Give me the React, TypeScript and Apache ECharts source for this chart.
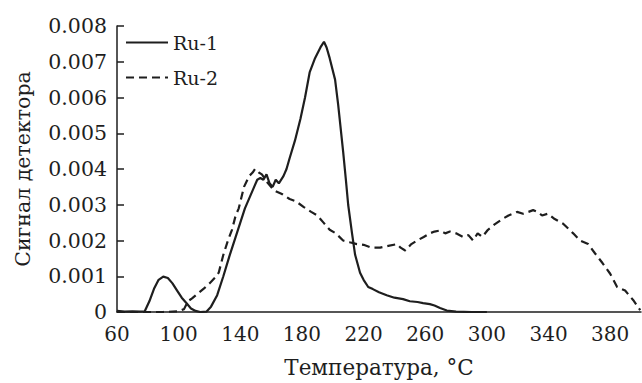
import React, { useEffect, useRef } from "react";
import * as echarts from "echarts";

const ru1Temp = [60, 65, 70, 75, 78, 81, 84, 87, 90, 93, 96, 99, 102, 105, 108, 111, 114, 118, 121, 125, 129, 133, 137, 140, 143, 146, 149, 151, 153, 155, 157, 159, 161, 163, 165, 168, 170, 172, 175.5, 179, 182, 185, 188.5, 192, 194.3, 196, 198, 201.5, 203.5, 206.7, 208.5, 210, 212.5, 214.5, 217.7, 220, 223, 226, 230, 235, 240, 245.6, 250, 255, 258.6, 263, 266, 269.6, 274, 280, 290, 300];
const ru1Signal = [0.00003, 0.00001, 0.00002, 0.00001, 0.00002, 0.0003, 0.00065, 0.0009, 0.00099, 0.00095, 0.0008, 0.0006, 0.0004, 0.00025, 0.0001, 0.00003, 0.0, 0.00001, 0.00015, 0.00047, 0.001, 0.00157, 0.0021, 0.0025, 0.0029, 0.0032, 0.0035, 0.0037, 0.00375, 0.0037, 0.00385, 0.0036, 0.0035, 0.0037, 0.0036, 0.0038, 0.004, 0.0043, 0.0048, 0.0054, 0.006, 0.0067, 0.0071, 0.0074, 0.00756, 0.0074, 0.0071, 0.0065, 0.0058, 0.0045, 0.0037, 0.003, 0.0022, 0.0016, 0.0011, 0.0009, 0.0007, 0.00064, 0.00055, 0.00047, 0.0004, 0.00036, 0.0003, 0.00028, 0.00025, 0.00022, 0.00018, 0.00011, 0.00004, 0.00001, 0, 0];

const ru2Temp = [60, 70, 80, 90, 100, 103.5, 106, 108.7, 112, 116.5, 120, 123.6, 126, 129, 132, 134.6, 137, 139, 142.4, 145.7, 148, 149.6, 152, 154, 158, 162, 167, 172, 176, 181, 186, 190, 194, 198, 202, 206.7, 211, 215.7, 220, 225, 230.7, 236, 241.7, 244, 247, 251, 254.7, 259, 263, 266, 269.6, 273, 276, 280, 284.5, 288, 291, 294, 297, 300.7, 305, 310, 314, 319.6, 323.5, 327, 330, 333, 335.8, 339.7, 344, 349.5, 356, 360.5, 365.7, 370, 375, 380, 384.5, 389.7, 395, 399.5];
const ru2Signal = [0, 0, 0, 0, 0.00002, 0.00008, 0.0003, 0.00038, 0.0005, 0.00066, 0.0008, 0.00096, 0.0011, 0.0016, 0.002, 0.0023, 0.0027, 0.0029, 0.0035, 0.0038, 0.0039, 0.004, 0.0039, 0.00385, 0.0036, 0.0034, 0.0033, 0.00316, 0.0031, 0.00294, 0.0028, 0.0027, 0.0025, 0.0023, 0.0022, 0.002, 0.00195, 0.0019, 0.00188, 0.0018, 0.0018, 0.00185, 0.0019, 0.0018, 0.00172, 0.0019, 0.002, 0.0021, 0.0022, 0.00225, 0.00228, 0.0022, 0.00225, 0.0022, 0.0021, 0.00215, 0.002, 0.0022, 0.0021, 0.0023, 0.00245, 0.0026, 0.0027, 0.0028, 0.00275, 0.0028, 0.00285, 0.0028, 0.0027, 0.00275, 0.0026, 0.00247, 0.0022, 0.002, 0.0019, 0.00165, 0.00137, 0.00107, 0.0007, 0.0006, 0.00033, 0.00005];

const seriesNames = ["Ru-1", "Ru-2"];
const xTickLabels = [60, 100, 140, 180, 220, 260, 300, 340, 380];
const yTickLabels = ["0", "0.001", "0.002", "0.003", "0.004", "0.005", "0.006", "0.007", "0.008"];

const FONT = "DejaVu Serif";
const INK = "#1e1e1e";

export default function App() {
  const ref = useRef<HTMLDivElement>(null);
  useEffect(() => {
    if (!ref.current) return;
    const chart = echarts.init(ref.current, undefined, { renderer: "svg" });
    const pairs = (xs: number[], ys: number[]) => xs.map((x, i) => [x, ys[i]]);
    chart.setOption({
      animation: false,
      backgroundColor: "#ffffff",
      textStyle: { fontFamily: FONT, color: INK },
      grid: { left: 117, right: 1, top: 26, bottom: 66, containLabel: false },
      legend: {
        orient: "vertical",
        left: 125,
        top: 33,
        itemWidth: 42,
        itemHeight: 20,
        itemGap: 16,
        padding: 0,
        itemStyle: { opacity: 0, color: "transparent", borderWidth: 0 },
        textStyle: { fontFamily: FONT, fontSize: 19, color: INK },
        data: seriesNames,
      },
      xAxis: {
        type: "value",
        min: 60,
        max: 400,
        interval: 20,
        name: "Температура, °C",
        nameLocation: "middle",
        nameGap: 44,
        nameTextStyle: { fontFamily: FONT, fontSize: 21.5, color: INK },
        axisLine: { show: true, lineStyle: { color: INK, width: 1.5 } },
        axisTick: { show: false },
        splitLine: { show: false },
        axisLabel: {
          fontFamily: FONT,
          fontSize: 20,
          color: INK,
          margin: 12,
          showMaxLabel: false,
          formatter: (v: number) => (xTickLabels.includes(v) ? String(v) : ""),
        },
      },
      yAxis: {
        type: "value",
        min: 0,
        max: 0.008,
        interval: 0.001,
        name: "Сигнал детектора",
        nameLocation: "middle",
        nameGap: 84,
        nameTextStyle: { fontFamily: FONT, fontSize: 20.5, color: INK },
        axisLine: { show: true, lineStyle: { color: INK, width: 1.5 } },
        axisTick: { show: true, inside: true, length: 7, lineStyle: { color: INK, width: 1.5 } },
        splitLine: { show: false },
        axisLabel: {
          fontFamily: FONT,
          fontSize: 20.5,
          color: INK,
          margin: 10,
          formatter: (v: number) => yTickLabels[Math.round(v / 0.001)] ?? "",
        },
      },
      series: [
        {
          name: seriesNames[0],
          type: "line",
          data: pairs(ru1Temp, ru1Signal),
          symbol: "none",
          lineStyle: { color: INK, width: 2.2, type: "solid" },
          itemStyle: { color: INK },
          z: 3,
        },
        {
          name: seriesNames[1],
          type: "line",
          data: pairs(ru2Temp, ru2Signal),
          symbol: "none",
          lineStyle: { color: INK, width: 2.2, type: [8, 5] },
          itemStyle: { color: INK },
          z: 2,
        },
      ],
    });
    return () => chart.dispose();
  }, []);
  return <div ref={ref} style={{ width: 642, height: 383, position: "fixed", left: 0, top: 0 }} />;
}
